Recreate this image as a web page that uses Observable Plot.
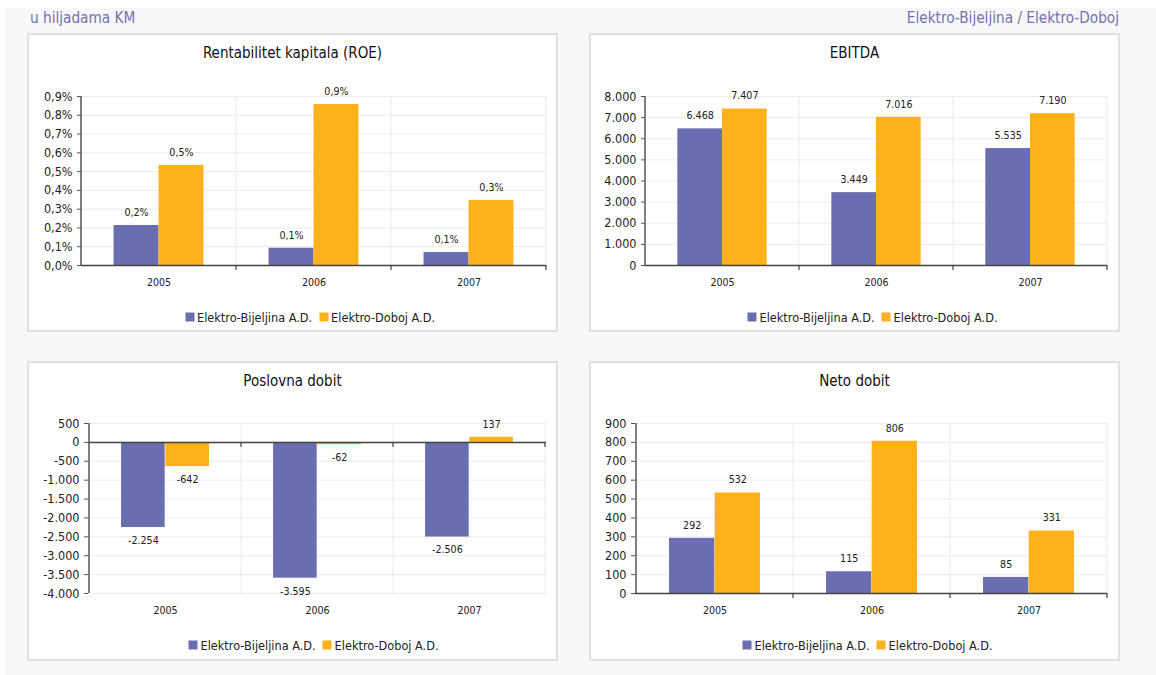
<!DOCTYPE html>
<html><head><meta charset="utf-8">
<script src="https://cdn.jsdelivr.net/npm/d3@7"></script>
<script src="https://cdn.jsdelivr.net/npm/@observablehq/plot@0.6"></script>
<style>
body{margin:0;background:#fff;font-family:"DejaVu Sans Condensed","DejaVu Sans",sans-serif;width:1156px;height:675px;overflow:hidden;position:relative;}
#page{position:absolute;left:5px;top:8px;width:1151px;height:667px;background:#f8f8f8;}
.hdr{position:absolute;top:9px;height:18px;line-height:18px;font-size:15.2px;color:#7272ac;white-space:nowrap;}
.panel{position:absolute;box-sizing:border-box;border:2px solid #e0e0e0;background:#fff;}
.title{position:absolute;left:0;right:0;top:9px;height:18px;line-height:18px;text-align:center;font-size:15px;color:#111;}
.legend{position:absolute;display:flex;align-items:center;font-size:12.6px;color:#222;transform:translate(-50%,-50%);white-space:nowrap;}
.sw{display:inline-block;width:9px;height:9px;margin-right:3px;}
.item{display:flex;align-items:center;margin-right:7px;}
.panel svg{position:absolute;left:0;top:0;}
</style>
</head><body>
<div id="page"></div>
<div class="hdr" style="left:30px">u hiljadama KM</div>
<div class="hdr" style="right:37px">Elektro-Bijeljina / Elektro-Doboj</div>
<script>
const years = ["2005", "2006", "2007"];
const series = ["Elektro-Bijeljina A.D.", "Elektro-Doboj A.D."];
const colors = ["#6a6eb0", "#fdb11b"];

const roeBijeljina = [0.213, 0.092, 0.069];
const roeDoboj = [0.533, 0.857, 0.347];
const roeTicks = [0, 0.1, 0.2, 0.3, 0.4, 0.5, 0.6, 0.7, 0.8, 0.9];

const ebitdaBijeljina = [6468, 3449, 5535];
const ebitdaDoboj = [7407, 7016, 7190];
const ebitdaTicks = [0, 1000, 2000, 3000, 4000, 5000, 6000, 7000, 8000];

const poslovnaBijeljina = [-2254, -3595, -2506];
const poslovnaDoboj = [-642, -62, 137];
const poslovnaTicks = [-4000, -3500, -3000, -2500, -2000, -1500, -1000, -500, 0, 500];

const netoBijeljina = [292, 115, 85];
const netoDoboj = [532, 806, 331];
const netoTicks = [0, 100, 200, 300, 400, 500, 600, 700, 800, 900];

const loc = d3.formatLocale({decimal: ",", thousands: ".", grouping: [3], currency: ["", ""], minus: "-"});
const fInt = loc.format(",d");
const fPct = v => loc.format(".1f")(v) + "%";

const FONT = '"DejaVu Sans Condensed","DejaVu Sans",sans-serif';

function makePanel(cfg) {
  const {left, top, width, height, title, b, d, ticks, tickFmt, labelFmt, ml, mr} = cfg;
  const div = document.createElement("div");
  div.className = "panel";
  Object.assign(div.style, {left: left + "px", top: top + "px", width: width + "px", height: height + "px"});
  const innerW = width - 4;
  const H = 260, mt = cfg.mt ?? 61, mb = 30;
  const data = years.flatMap((y, i) => [
    {year: y, series: series[0], value: b[i]},
    {year: y, series: series[1], value: d[i]}
  ]);
  const bw = (innerW - ml - mr) / years.length;
  const barW = bw * 0.29;
  const s0 = data.filter(r => r.series === series[0]);
  const s1 = data.filter(r => r.series === series[1]);

  const boundaries = (index, scales, values, dims) => {
    const g = d3.create("svg:g");
    const x = scales.x;
    const bwid = typeof x.bandwidth === "function" ? x.bandwidth() : bw;
    const t = dims.marginTop, bot = dims.height - dims.marginBottom;
    years.forEach(yr => {
      const xr = x(yr) + bwid;
      g.append("line").attr("x1", xr).attr("x2", xr).attr("y1", t).attr("y2", bot)
        .attr("stroke", "#ebebeb");
    });
    return g.node();
  };
  const axisLines = (index, scales, values, dims) => {
    const g = d3.create("svg:g");
    const x = scales.x, y = scales.y;
    const bwid = typeof x.bandwidth === "function" ? x.bandwidth() : bw;
    const t = dims.marginTop, bot = dims.height - dims.marginBottom;
    const x0 = x(years[0]);
    const y0 = y(0);
    g.append("line").attr("x1", x0).attr("x2", x0).attr("y1", t).attr("y2", bot)
      .attr("stroke", "#555").attr("stroke-width", 1.5);
    years.forEach(yr => {
      const xr = x(yr) + bwid;
      g.append("line").attr("x1", xr).attr("x2", xr).attr("y1", y0).attr("y2", y0 + 5)
        .attr("stroke", "#444").attr("stroke-width", 1.2);
    });
    return g.node();
  };

  const chart = Plot.plot({
    width: innerW, height: H,
    marginTop: mt, marginBottom: mb, marginLeft: ml, marginRight: mr,
    style: {fontFamily: FONT, color: "#222", background: "transparent", overflow: "visible"},
    x: {type: "band", domain: years, padding: 0, label: null},
    y: {domain: [ticks[0], ticks[ticks.length - 1]], label: null},
    color: {domain: series, range: colors},
    marks: [
      Plot.gridY(ticks, {stroke: "#ebebeb", strokeOpacity: 1}),
      boundaries,
      Plot.barY(s0, {x: "year", y: "value", fill: "series", insetLeft: bw / 2 - barW, insetRight: bw / 2}),
      Plot.barY(s1, {x: "year", y: "value", fill: "series", insetLeft: bw / 2, insetRight: bw / 2 - barW}),
      Plot.ruleY([0], {stroke: "#444", strokeWidth: 1.5}),
      axisLines,
      Plot.axisY(ticks, {tickFormat: tickFmt, tickSize: 4, tickPadding: 5, fontSize: 12.5, stroke: "#555", fill: "#222"}),
      Plot.axisX({tickSize: 0, tickPadding: 13, fontSize: 10.6, fill: "#222"}),
      Plot.text(s0.filter(r => r.value >= 0), {x: "year", y: "value", text: r => labelFmt(r.value), dx: -barW / 2, dy: -13, fontSize: 10.6, fill: "#222"}),
      Plot.text(s1.filter(r => r.value >= 0), {x: "year", y: "value", text: r => labelFmt(r.value), dx: barW / 2, dy: -13, fontSize: 10.6, fill: "#222"}),
      Plot.text(s0.filter(r => r.value < 0), {x: "year", y: "value", text: r => labelFmt(r.value), dx: -barW / 2, dy: 13, fontSize: 10.6, fill: "#222"}),
      Plot.text(s1.filter(r => r.value < 0), {x: "year", y: "value", text: r => labelFmt(r.value), dx: barW / 2, dy: 13, fontSize: 10.6, fill: "#222"})
    ]
  });
  div.appendChild(chart);

  const t = document.createElement("div");
  t.className = "title";
  t.textContent = title;
  div.appendChild(t);

  const lg = document.createElement("div");
  lg.className = "legend";
  lg.style.left = (ml + (innerW - ml - mr) / 2) + "px";
  lg.style.top = "282px";
  series.forEach((s, i) => {
    const it = document.createElement("span");
    it.className = "item";
    const sw = document.createElement("span");
    sw.className = "sw";
    sw.style.background = colors[i];
    it.appendChild(sw);
    it.appendChild(document.createTextNode(s));
    lg.appendChild(it);
  });
  div.appendChild(lg);
  document.body.appendChild(div);
}

makePanel({left: 27, top: 33, width: 531, height: 299, title: "Rentabilitet kapitala (ROE)",
  b: roeBijeljina, d: roeDoboj, ticks: roeTicks, tickFmt: fPct, labelFmt: fPct, ml: 52, mr: 10});
makePanel({left: 589, top: 33, width: 531, height: 299, title: "EBITDA",
  b: ebitdaBijeljina, d: ebitdaDoboj, ticks: ebitdaTicks, tickFmt: fInt, labelFmt: fInt, ml: 54, mr: 11});
makePanel({left: 27, top: 361, width: 531, height: 300, title: "Poslovna dobit",
  b: poslovnaBijeljina, d: poslovnaDoboj, ticks: poslovnaTicks, tickFmt: fInt, labelFmt: fInt, ml: 59, mr: 10, mt: 60});
makePanel({left: 589, top: 361, width: 531, height: 300, title: "Neto dobit",
  b: netoBijeljina, d: netoDoboj, ticks: netoTicks, tickFmt: fInt, labelFmt: fInt, ml: 44, mr: 11, mt: 60});
</script>
</body></html>
